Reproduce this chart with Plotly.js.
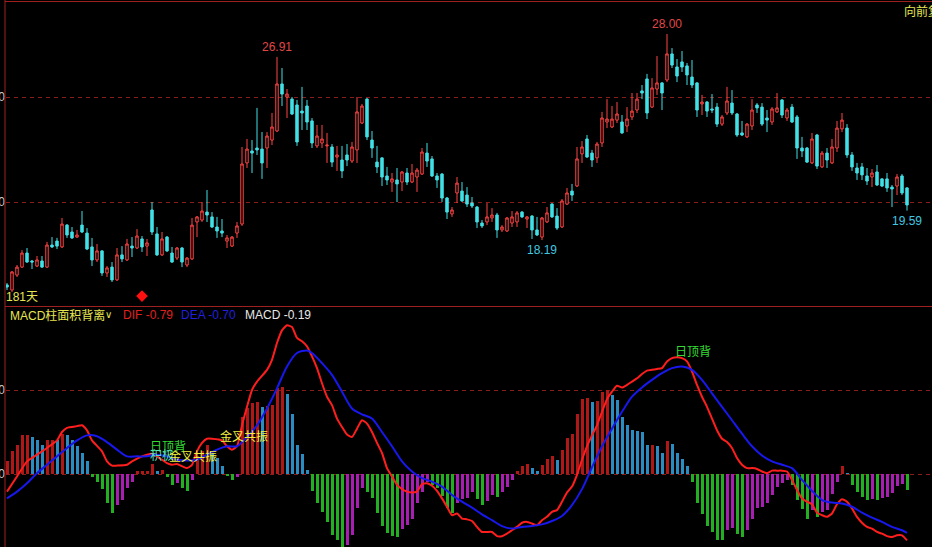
<!DOCTYPE html>
<html><head><meta charset="utf-8">
<script src="https://cdn.plot.ly/plotly-3.0.1.min.js"></script>
<style>html,body{margin:0;padding:0;background:#000;}#chart{width:932px;height:547px;}</style>
</head><body><div id="chart"></div>
<script>
// ---- price data (daily OHLC), index 0..180 ----
const openP = [16.05,15.81,16.52,16.90,17.57,17.19,16.95,17.19,16.90,17.95,18.14,17.86,18.90,18.57,18.33,18.90,18.52,17.86,17.24,17.67,
16.62,16.90,16.29,17.48,17.24,17.90,17.81,18.24,17.90,19.62,18.48,17.48,18.33,17.57,17.33,17.81,17.00,17.29,19.05,19.14,
19.52,19.29,18.81,18.62,18.14,17.90,18.52,18.95,21.86,22.43,22.57,22.52,22.57,22.95,23.38,25.62,25.00,24.90,24.62,24.33,
24.57,23.86,22.67,22.81,22.67,22.62,22.14,22.00,22.24,21.95,22.48,23.76,24.90,22.95,21.90,22.10,21.24,20.95,21.05,20.95,
21.38,20.95,21.19,21.33,22.33,22.05,21.24,21.33,20.19,19.43,20.43,20.52,20.33,19.95,19.76,19.00,19.05,19.24,19.38,18.67,
18.62,19.00,19.05,19.52,19.19,19.33,18.67,18.33,19.05,19.90,19.33,18.81,19.90,20.52,20.76,22.29,23.00,22.33,22.10,22.81,
23.81,23.57,23.90,23.81,23.62,24.05,24.38,25.29,25.86,24.52,25.38,25.67,25.81,27.05,26.43,26.67,26.48,25.95,25.67,24.67,
24.76,24.43,24.52,23.71,24.24,24.71,24.19,23.29,23.10,23.62,24.62,24.52,24.00,23.81,24.29,24.86,24.00,24.52,24.05,22.57,
22.57,21.86,23.19,21.67,22.33,21.86,22.57,23.48,23.52,22.24,21.62,21.67,21.24,21.19,21.43,21.10,21.10,20.71,20.76,21.24,20.67];
const highP = [16.14,16.71,17.00,17.71,17.81,17.24,17.43,17.43,18.10,18.33,18.29,19.24,18.95,18.81,18.67,19.57,18.76,18.29,18.00,17.71,
16.95,17.14,17.81,17.90,18.24,18.33,18.71,18.38,18.24,20.00,18.81,18.57,18.38,17.86,17.86,17.86,17.38,19.24,19.33,20.00,
20.57,19.52,19.29,19.19,18.43,18.38,19.05,22.62,23.00,22.95,24.48,23.33,23.33,24.24,26.91,26.38,25.38,25.00,24.86,25.48,
24.86,24.00,23.67,23.67,23.29,22.76,22.67,22.67,22.76,22.86,25.00,24.67,24.95,23.38,22.67,22.14,21.67,21.38,21.62,21.48,
21.62,21.81,21.62,22.57,22.81,22.19,21.38,21.38,20.24,19.76,21.19,20.95,20.71,20.24,19.81,19.14,19.95,19.71,19.48,18.90,
19.29,19.57,19.57,19.57,19.33,19.38,19.29,19.29,19.76,19.95,19.71,20.14,20.67,20.86,22.62,22.90,23.19,22.48,22.86,24.29,
24.90,24.57,24.76,24.14,24.52,25.19,25.19,25.57,26.10,25.90,26.95,25.71,28.00,27.33,26.81,27.19,26.62,26.76,25.71,25.10,
24.81,25.14,24.71,24.14,25.48,25.33,24.24,23.86,23.76,24.90,24.71,24.71,24.38,24.52,25.19,24.90,24.48,24.67,24.14,23.10,
22.62,23.29,23.24,22.43,22.57,23.00,23.86,24.24,23.71,22.38,21.86,21.86,21.62,21.57,21.76,21.14,21.38,20.81,21.33,21.33,20.71];
const lowP = [15.81,15.71,16.43,16.86,17.10,16.81,16.90,16.86,16.86,17.81,17.76,17.81,18.29,18.24,18.29,18.52,17.71,16.95,17.14,16.48,
16.43,16.19,16.24,17.14,17.19,17.38,17.76,17.62,17.43,18.43,17.43,17.43,17.62,17.10,17.24,16.90,16.90,17.24,18.33,19.05,
19.05,18.76,18.29,18.33,17.81,17.86,18.29,18.86,21.62,21.38,22.24,21.10,21.62,22.71,23.33,24.57,24.00,24.14,22.67,23.43,
23.43,22.57,22.57,22.57,21.86,21.67,21.48,21.14,21.71,21.86,21.86,23.71,22.95,22.10,21.38,20.76,20.81,20.48,20.00,20.52,
20.81,20.90,20.48,21.29,21.67,21.19,20.67,20.00,19.19,19.29,19.95,20.00,19.76,19.71,18.76,18.76,18.90,19.05,18.29,18.57,
18.57,18.81,18.81,19.24,18.76,18.24,18.38,18.19,19.00,19.24,18.67,18.76,19.86,20.05,20.71,21.86,22.10,21.67,21.86,22.62,
23.52,23.52,23.76,23.24,23.33,23.90,24.24,24.90,23.95,24.48,25.10,24.38,25.71,26.38,25.71,26.19,25.57,25.43,24.05,24.14,
24.05,24.24,23.57,23.62,24.14,24.14,23.10,23.14,23.05,23.43,24.24,23.62,23.33,23.67,24.24,24.00,23.86,23.76,22.05,22.14,
21.86,21.81,21.57,21.62,21.62,21.81,22.38,23.33,22.10,21.48,21.05,21.05,20.81,20.71,20.76,20.71,20.48,19.76,20.33,20.33,19.59];
const closeP = [15.95,16.67,16.90,17.57,17.14,17.14,17.24,16.90,17.95,17.86,17.90,18.95,18.43,18.29,18.43,18.57,17.76,17.24,17.67,16.62,
16.86,16.29,17.48,17.29,18.00,17.81,18.38,17.86,18.05,18.57,17.48,18.24,17.67,17.14,17.81,17.14,17.33,18.90,19.29,19.57,
19.38,18.81,18.62,18.52,18.29,18.33,18.86,21.81,22.52,22.33,22.48,21.86,23.14,23.57,25.62,25.14,25.14,24.19,22.86,24.24,
23.81,22.81,23.14,23.00,22.71,21.90,22.24,21.48,22.00,22.62,24.29,24.57,23.10,22.57,21.67,21.19,21.05,21.10,20.86,21.43,
20.95,21.38,21.52,22.38,21.95,21.24,21.05,20.19,19.52,19.62,20.90,20.05,19.90,19.81,19.05,18.86,19.29,19.38,18.67,18.81,
19.24,19.29,19.48,19.29,19.29,18.67,18.43,19.24,19.48,19.29,18.76,20.05,20.43,20.33,22.05,22.62,22.14,22.00,22.76,24.00,
23.95,23.95,24.19,23.29,23.95,24.33,24.90,25.19,24.24,25.43,25.67,25.19,27.05,26.52,26.00,26.43,26.05,25.57,24.38,24.76,
24.33,24.38,23.71,24.05,24.81,24.24,23.19,23.19,23.71,24.38,24.48,23.71,23.90,24.43,24.48,24.14,24.38,23.81,22.57,22.43,
21.90,23.00,21.71,22.33,22.00,22.62,23.52,23.90,22.24,21.67,21.38,21.29,21.00,21.38,20.81,20.76,20.67,20.62,21.19,20.43,19.86];

// ---- MACD histogram (one bar per day) ----
const macdHist = [0.15,0.27,0.35,0.46,0.47,0.44,0.41,0.35,0.40,0.41,0.40,0.48,0.46,0.40,0.33,0.25,0.15,-0.03,-0.10,-0.18,
-0.35,-0.46,-0.37,-0.31,-0.17,-0.10,0.03,0.03,0.04,0.12,0.03,0.05,-0.03,-0.13,-0.11,-0.17,-0.20,-0.07,0.21,0.27,
0.35,0.25,0.19,0.09,-0.02,-0.07,-0.03,0.68,0.78,0.84,0.86,0.80,0.81,0.82,1.02,1.03,0.95,0.71,0.35,0.24,
0.05,-0.20,-0.34,-0.45,-0.57,-0.73,-0.78,-0.87,-0.85,-0.73,-0.41,-0.17,-0.21,-0.29,-0.46,-0.62,-0.70,-0.74,-0.75,-0.65,
-0.61,-0.53,-0.35,-0.21,-0.10,-0.13,-0.17,-0.26,-0.41,-0.47,-0.34,-0.30,-0.29,-0.22,-0.30,-0.37,-0.32,-0.25,-0.27,-0.22,
-0.15,-0.07,0.04,0.09,0.12,0.07,0.03,0.11,0.18,0.21,0.17,0.29,0.43,0.48,0.71,0.89,0.91,0.86,0.87,0.98,
1.00,0.94,0.88,0.68,0.58,0.52,0.51,0.50,0.34,0.35,0.33,0.25,0.39,0.36,0.25,0.18,0.09,-0.09,-0.35,-0.48,
-0.62,-0.69,-0.78,-0.78,-0.67,-0.64,-0.72,-0.75,-0.67,-0.53,-0.41,-0.39,-0.34,-0.25,-0.16,-0.11,-0.07,-0.13,-0.31,-0.42,
-0.53,-0.43,-0.51,-0.45,-0.43,-0.24,-0.10,0.10,0.01,-0.13,-0.21,-0.27,-0.31,-0.30,-0.31,-0.29,-0.27,-0.23,-0.14,-0.12,-0.19];

// ---- DIF line (day index, value) ----
const difDay = [0,2,4,6,8,10,11,12,14,15,16,17,19,20,21,22,24,25,27,28,29,31,32,33,34,36,37,38,39,40,41,43,44,45,46,47,48,49,50,52,53,54,55,56,57,58,59,60,61,62,63,64,65,66,67,68,69,70,
71,72,73,74,75,76,77,78,79,80,81,82,83,84,85,86,87,88,89,90,91,92,93,94,95,96,97,98,99,100,101,102,103,104,105,106,107,108,109,110,
111,112,113,114,115,116,117,118,119,120,121,122,123,124,125,126,127,128,129,130,131,132,133,134,135,136,137,138,139,140,141,142,143,144,145,146,147,148,149,150,
151,152,153,154,155,156,157,158,159,160,161,162,163,164,165,166,167,168,169,170,171,172,173,174,175,176,177,178,179,180];
const difVal = [-0.21,-0.03,0.15,0.23,0.31,0.40,0.50,0.55,0.57,0.58,0.52,0.40,0.27,0.15,0.10,0.10,0.11,0.15,0.21,0.23,0.24,0.17,0.13,0.11,0.12,0.07,0.11,0.27,0.37,0.42,0.42,0.40,0.33,0.29,0.33,0.58,0.80,1.00,1.10,1.24,1.36,1.56,1.71,1.77,1.75,1.62,1.58,1.52,1.40,1.26,1.08,0.92,0.82,0.66,0.56,0.47,0.44,0.54,
0.64,0.60,0.50,0.37,0.25,0.07,-0.03,-0.13,-0.18,-0.21,-0.22,-0.21,-0.12,-0.11,-0.14,-0.20,-0.29,-0.39,-0.49,-0.47,-0.53,-0.54,-0.56,-0.63,-0.69,-0.69,-0.69,-0.74,-0.74,-0.71,-0.67,-0.63,-0.58,-0.57,-0.59,-0.61,-0.55,-0.51,-0.45,-0.43,
-0.33,-0.22,-0.15,-0.01,0.17,0.33,0.46,0.58,0.74,0.89,0.98,1.05,1.03,1.06,1.10,1.14,1.19,1.23,1.24,1.25,1.26,1.34,1.38,1.39,1.38,1.34,1.22,1.06,0.92,0.80,0.66,0.52,0.42,0.38,0.31,0.19,0.11,0.07,0.07,0.06,
0.03,0.01,0.04,0.04,0.04,0.03,-0.07,-0.19,-0.29,-0.33,-0.36,-0.46,-0.49,-0.51,-0.47,-0.36,-0.30,-0.33,-0.41,-0.51,-0.58,-0.63,-0.65,-0.69,-0.71,-0.74,-0.75,-0.73,-0.73,-0.79];

// ---- DEA line (day index, value) ----
const deaDay = [0,2,4,6,8,10,12,14,16,18,20,22,24,26,28,30,32,34,36,38,40,42,44,46,48,50,52,54,56,58,60,
61,63,65,67,69,71,73,75,77,79,81,83,85,87,89,91,93,95,97,99,101,103,105,107,109,111,113,115,117,119,
121,123,125,127,129,131,133,135,137,139,141,143,145,147,149,151,153,155,157,159,161,163,165,167,169,171,173,175,177,179,180];
const deaVal = [-0.29,-0.21,-0.11,0.01,0.11,0.21,0.31,0.40,0.46,0.45,0.38,0.29,0.21,0.21,0.21,0.23,0.21,0.17,0.16,0.17,0.23,0.29,0.33,0.33,0.44,0.58,0.78,1.02,1.28,1.44,1.47,
1.44,1.32,1.18,0.98,0.78,0.71,0.66,0.50,0.33,0.15,0.03,-0.05,-0.09,-0.15,-0.25,-0.33,-0.40,-0.48,-0.55,-0.62,-0.65,-0.63,-0.62,-0.60,-0.56,-0.50,-0.37,-0.18,0.08,0.33,
0.54,0.74,0.92,1.03,1.12,1.20,1.26,1.28,1.24,1.12,0.96,0.80,0.64,0.48,0.33,0.22,0.15,0.11,0.07,-0.07,-0.20,-0.31,-0.34,-0.35,-0.39,-0.46,-0.52,-0.57,-0.63,-0.67,-0.70];

// ---- signals / labels ----
const signalDay = [27];
const signalVal = [15.52];
const daysText = '181天';
const adjText = '向前复权';
const macdTitle = 'MACD柱面积背离';
const difLabel = 'DIF -0.79', deaLabel = 'DEA -0.70', macdLabel = 'MACD -0.19';
const markText = [
  {t:'日顶背', day:28.2, v:0.32, c:'#33dd33'},
  {t:'积极', day:28.2, v:0.21, c:'#55ddbb'},
  {t:'金叉共振', day:32.0, v:0.21, c:'#f0f040'},
  {t:'金叉共振', day:42.2, v:0.45, c:'#f0f040'},
  {t:'日顶背', day:133.2, v:1.45, c:'#33dd33'}
];

const days = openP.map((_, i) => i);
const W = 932, H = 547, ML = 6;
const px = x => (x - ML) / (W - ML);
const py = y => 1 - y / H;

// bar colours by MACD rule
const RED='#b01818', BLUE='#2a8cc0', GREEN='#22b022', PURPLE='#a61fb0';
const histColors = macdHist.map((v, i) => {
  const p = i > 0 ? macdHist[i-1] : -Infinity;
  if (v >= 0) return v >= p ? RED : BLUE;
  return v <= p ? GREEN : PURPLE;
});

const FONT = 'Liberation Sans, Arial, Noto Sans CJK SC, sans-serif';

const traces = [
  {type:'candlestick', x:days, open:openP, high:highP, low:lowP, close:closeP,
   increasing:{line:{color:'#ff4545', width:1}, fillcolor:'#000000'},
   decreasing:{line:{color:'#40e0e6', width:1}, fillcolor:'#40e0e6'},
   xaxis:'x', yaxis:'y', hoverinfo:'skip'},
  {type:'scatter', mode:'markers', x:signalDay, y:signalVal, xaxis:'x', yaxis:'y',
   marker:{symbol:'diamond', size:9, color:'#ff1010'}, hoverinfo:'skip'},
  {type:'bar', x:days, y:macdHist, width:0.6, marker:{color:histColors, line:{width:0}},
   xaxis:'x', yaxis:'y2', hoverinfo:'skip'},
  {type:'scatter', mode:'lines', x:difDay, y:difVal, xaxis:'x', yaxis:'y2',
   line:{color:'#ff1e1e', width:2, shape:'spline', smoothing:0.5}, hoverinfo:'skip'},
  {type:'scatter', mode:'lines', x:deaDay, y:deaVal, xaxis:'x', yaxis:'y2',
   line:{color:'#1818ee', width:2, shape:'spline', smoothing:0.8}, hoverinfo:'skip'}
];

// high/low labels
const maxHi1 = Math.max(...highP.slice(0, 100));
const iHi1 = highP.indexOf(maxHi1);
const maxHi2 = Math.max(...highP.slice(100));
const iHi2 = 100 + highP.slice(100).indexOf(maxHi2);
const minLo1 = Math.min(...lowP.slice(60, 150));
const iLo1 = 60 + lowP.slice(60, 150).indexOf(minLo1);
const iLast = lowP.length - 1;

const ann = [
  {x:iHi1, y:maxHi1, xref:'x', yref:'y', text:maxHi1.toFixed(2), showarrow:false, yanchor:'bottom', yshift:1, font:{color:'#e04848', size:12, family:FONT}},
  {x:iHi2, y:maxHi2, xref:'x', yref:'y', text:maxHi2.toFixed(2), showarrow:false, yanchor:'bottom', yshift:1, font:{color:'#e04848', size:12, family:FONT}},
  {x:iLo1, y:minLo1, xref:'x', yref:'y', text:minLo1.toFixed(2), showarrow:false, yanchor:'top', yshift:-1, font:{color:'#40c8e0', size:12, family:FONT}},
  {x:iLast, y:lowP[iLast], xref:'x', yref:'y', text:lowP[iLast].toFixed(2), showarrow:false, yanchor:'top', yshift:-1, font:{color:'#40c8e0', size:12, family:FONT}},
  {x:px(4), y:py(297), xref:'paper', yref:'paper', text:daysText, showarrow:false, xanchor:'left', yanchor:'middle', font:{color:'#e6e650', size:12, family:FONT}},
  {x:px(902), y:py(11), xref:'paper', yref:'paper', text:adjText, showarrow:false, xanchor:'left', yanchor:'middle', font:{color:'#e6e650', size:12, family:FONT}},
  {x:px(8), y:py(315), xref:'paper', yref:'paper', text:macdTitle, showarrow:false, xanchor:'left', yanchor:'middle', font:{color:'#e6e650', size:12, family:FONT}},
  {x:px(103), y:py(314), xref:'paper', yref:'paper', text:'∨', showarrow:false, xanchor:'left', yanchor:'middle', font:{color:'#e6e650', size:10, family:'DejaVu Sans'}},
  {x:px(121), y:py(315), xref:'paper', yref:'paper', text:difLabel, showarrow:false, xanchor:'left', yanchor:'middle', font:{color:'#e02020', size:12, family:FONT}},
  {x:px(179), y:py(315), xref:'paper', yref:'paper', text:deaLabel, showarrow:false, xanchor:'left', yanchor:'middle', font:{color:'#2020dd', size:12, family:FONT}},
  {x:px(243), y:py(315), xref:'paper', yref:'paper', text:macdLabel, showarrow:false, xanchor:'left', yanchor:'middle', font:{color:'#e8e8e8', size:12, family:FONT}}
];
markText.forEach(m => ann.push({x:m.day, y:m.v, xref:'x', yref:'y2', text:m.t, showarrow:false, xanchor:'left', yanchor:'middle', font:{color:m.c, size:12, family:FONT}}));

const FRAME = '#a02020';
const shapes = [
  {type:'line', xref:'paper', yref:'paper', x0:px(5), x1:px(5), y0:0, y1:1, line:{color:FRAME, width:1}},
  {type:'line', xref:'paper', yref:'paper', x0:px(5), x1:1, y0:py(1.5), y1:py(1.5), line:{color:FRAME, width:1}},
  {type:'line', xref:'paper', yref:'paper', x0:px(5), x1:1, y0:py(306.5), y1:py(306.5), line:{color:FRAME, width:1}}
];

const layout = {
  width:W, height:H, margin:{l:ML, r:0, t:0, b:0},
  paper_bgcolor:'#000000', plot_bgcolor:'#000000', showlegend:false, hovermode:false,
  boxgap:0.3, bargap:0,
  font:{family:FONT, color:'#c8c8c8', size:12},
  xaxis:{range:[-0.2, 185], showgrid:false, zeroline:false, showticklabels:false, ticks:'', showline:false,
         rangeslider:{visible:false}, fixedrange:true},
  yaxis:{domain:[py(306), py(2)], range:[(622-306)/21, (622-2)/21], tickvals:[20,25], ticktext:['20.00','25.00'],
         showgrid:true, gridcolor:'#8a1c1c', griddash:'4px,4px', gridwidth:1, zeroline:false, showline:false, ticks:'',
         tickfont:{color:'#c8c8c8', size:12}, fixedrange:true},
  yaxis2:{domain:[0, py(307)], range:[(474-547)/84, (474-307)/84], tickvals:[0,1], ticktext:['0.00','1.00'],
         showgrid:true, gridcolor:'#8a1c1c', griddash:'4px,4px', gridwidth:1, zeroline:false, showline:false, ticks:'',
         tickfont:{color:'#c8c8c8', size:12}, fixedrange:true},
  annotations:ann, shapes:shapes
};

Plotly.newPlot('chart', traces, layout, {staticPlot:true, displayModeBar:false});
</script>
</body></html>
